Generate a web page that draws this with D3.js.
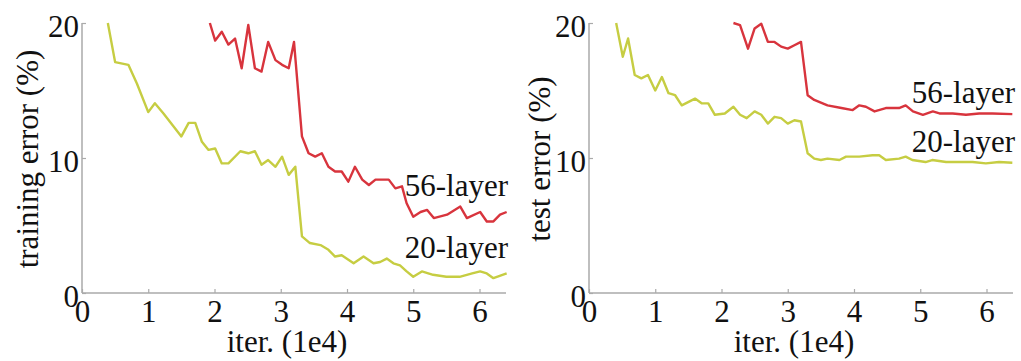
<!DOCTYPE html>
<html>
<head>
<meta charset="utf-8">
<script src="https://cdn.jsdelivr.net/npm/d3@7"></script>
<style>
  body { margin: 0; background: #fff; }
</style>
</head>
<body>
<div id="chart"></div>
<script>
// x values in units of 1e4 iterations, y values are error in %
const trainX20 = [0.39, 0.5, 0.7, 0.83, 1.0, 1.1, 1.23, 1.5, 1.61, 1.71, 1.81, 1.91, 2.01, 2.11, 2.21, 2.39, 2.51, 2.61, 2.71, 2.81, 2.92, 3.02, 3.12, 3.22, 3.32, 3.44, 3.6, 3.72, 3.82, 3.92, 4.1, 4.25, 4.4, 4.5, 4.6, 4.7, 4.8, 4.9, 5.0, 5.13, 5.3, 5.5, 5.7, 5.89, 6.01, 6.11, 6.21, 6.41];
const trainY20 = [20.0, 17.1, 16.9, 15.5, 13.4, 14.05, 13.3, 11.6, 12.6, 12.6, 11.2, 10.6, 10.7, 9.6, 9.6, 10.5, 10.35, 10.5, 9.5, 9.85, 9.35, 10.1, 8.75, 9.35, 4.2, 3.7, 3.55, 3.2, 2.7, 2.8, 2.2, 2.7, 2.2, 2.3, 2.55, 2.2, 2.05, 1.6, 1.2, 1.6, 1.35, 1.2, 1.2, 1.45, 1.6, 1.45, 1.1, 1.45];

const trainX56 = [1.93, 2.01, 2.11, 2.21, 2.31, 2.41, 2.51, 2.61, 2.71, 2.81, 2.92, 3.02, 3.12, 3.2, 3.32, 3.42, 3.52, 3.62, 3.72, 3.82, 3.92, 4.02, 4.12, 4.23, 4.33, 4.43, 4.53, 4.63, 4.73, 4.83, 4.9, 5.0, 5.11, 5.21, 5.31, 5.51, 5.71, 5.81, 6.01, 6.11, 6.21, 6.31, 6.41];
const trainY56 = [20.0, 18.7, 19.35, 18.4, 18.85, 16.65, 19.85, 16.65, 16.4, 18.6, 17.25, 16.9, 16.65, 18.6, 11.6, 10.35, 10.1, 10.35, 9.35, 9.0, 9.0, 8.25, 9.35, 8.4, 8.0, 8.4, 8.4, 8.4, 7.75, 7.9, 6.65, 5.65, 6.0, 6.15, 5.55, 5.8, 6.4, 5.55, 6.0, 5.3, 5.3, 5.8, 6.0];

const testX20 = [0.41, 0.51, 0.59, 0.69, 0.79, 0.89, 1.0, 1.1, 1.2, 1.3, 1.4, 1.6, 1.7, 1.8, 1.9, 2.05, 2.18, 2.28, 2.38, 2.5, 2.6, 2.7, 2.8, 2.9, 3.0, 3.1, 3.2, 3.3, 3.4, 3.5, 3.6, 3.78, 3.88, 4.08, 4.28, 4.38, 4.48, 4.68, 4.78, 4.88, 5.08, 5.18, 5.39, 5.59, 5.79, 5.99, 6.19, 6.39];
const testY20 = [20.0, 17.5, 18.85, 16.15, 15.9, 16.15, 15.0, 16.0, 14.8, 14.65, 13.9, 14.4, 14.05, 14.05, 13.2, 13.3, 13.8, 13.2, 12.95, 13.45, 13.2, 12.55, 13.05, 12.95, 12.55, 12.8, 12.7, 10.35, 9.95, 9.85, 9.95, 9.85, 10.1, 10.1, 10.2, 10.2, 9.85, 9.95, 10.1, 9.85, 9.7, 9.85, 9.7, 9.7, 9.7, 9.6, 9.7, 9.65];

const testX56 = [2.18, 2.28, 2.4, 2.5, 2.6, 2.7, 2.8, 2.9, 3.0, 3.1, 3.2, 3.3, 3.4, 3.6, 3.81, 3.98, 4.08, 4.18, 4.31, 4.48, 4.68, 4.78, 4.89, 5.04, 5.19, 5.29, 5.49, 5.69, 5.89, 6.09, 6.39];
const testY56 = [20.0, 19.85, 18.1, 19.6, 19.95, 18.6, 18.6, 18.25, 18.1, 18.35, 18.6, 14.65, 14.3, 13.9, 13.7, 13.55, 13.9, 13.8, 13.45, 13.7, 13.7, 13.9, 13.45, 13.2, 13.45, 13.3, 13.3, 13.2, 13.3, 13.3, 13.25];

const xTicks = [0, 1, 2, 3, 4, 5, 6];
const yTicks = [0, 10, 20];
const seriesNames = ["56-layer", "20-layer"];

const red = "#d8343d";
const yellow = "#c6cd42";
const axisColor = "#aaaaaa";

const svg = d3.select("#chart").append("svg")
    .attr("width", 1021)
    .attr("height", 361);

function drawPanel(left, right, yLabel, ylabelX, series, labelY) {
    const x = d3.scaleLinear().domain([0, 6.4]).range([left, right]);
    const y = d3.scaleLinear().domain([0, 20]).range([293, 23]);

    const g = svg.append("g");

    // axes: thin grey lines with short inward ticks
    g.append("g")
        .attr("transform", "translate(0,293)")
        .call(d3.axisBottom(x).tickValues(xTicks).tickSize(-4).tickFormat(d3.format("d")))
        .call(a => a.selectAll(".tick text").attr("y", 7).attr("dy", "0.71em"));

    g.append("g")
        .attr("transform", `translate(${left},0)`)
        .call(d3.axisLeft(y).tickValues(yTicks).tickSize(-4).tickPadding(3).tickFormat(d3.format("d")))
        .call(a => a.selectAll(".tick text").attr("dy", "0.44em"));

    g.selectAll(".domain").remove();
    g.selectAll(".tick line").attr("stroke", axisColor).attr("stroke-width", 1.2);

    g.append("line")
        .attr("x1", left).attr("x2", left)
        .attr("y1", y(20)).attr("y2", y(0))
        .attr("stroke", axisColor).attr("stroke-width", 1.5);
    g.append("line")
        .attr("x1", left).attr("x2", right)
        .attr("y1", y(0)).attr("y2", y(0))
        .attr("stroke", axisColor).attr("stroke-width", 1.5);

    // axis titles
    g.append("text")
        .attr("x", (left + right) / 2 - 7)
        .attr("y", 352)
        .attr("text-anchor", "middle")
        .text("iter. (1e4)");

    g.append("text")
        .attr("transform", `translate(${ylabelX},159) rotate(-90)`)
        .attr("text-anchor", "middle")
        .text(yLabel);

    const line = d3.line()
        .x(d => x(d[0]))
        .y(d => y(d[1]));

    series.forEach((s, i) => {
        g.append("path")
            .datum(d3.zip(s.xs, s.ys))
            .attr("fill", "none")
            .attr("stroke", s.color)
            .attr("stroke-width", 2.4)
            .attr("stroke-linejoin", "round")
            .attr("d", line);

        g.append("text")
            .attr("x", right + 2)
            .attr("y", labelY[i])
            .attr("text-anchor", "end")
            .text(seriesNames[i]);
    });
}

drawPanel(82, 506, "training error (%)", 38,
    [{ xs: trainX56, ys: trainY56, color: red }, { xs: trainX20, ys: trainY20, color: yellow }],
    [196, 258]);

drawPanel(589, 1013, "test error (%)", 550,
    [{ xs: testX56, ys: testY56, color: red }, { xs: testX20, ys: testY20, color: yellow }],
    [103, 152]);

// all text in a Times-like serif
svg.selectAll("text")
    .style("font-family", '"Liberation Serif"')
    .style("font-size", "31px")
    .attr("fill", "#111");
</script>
</body>
</html>
